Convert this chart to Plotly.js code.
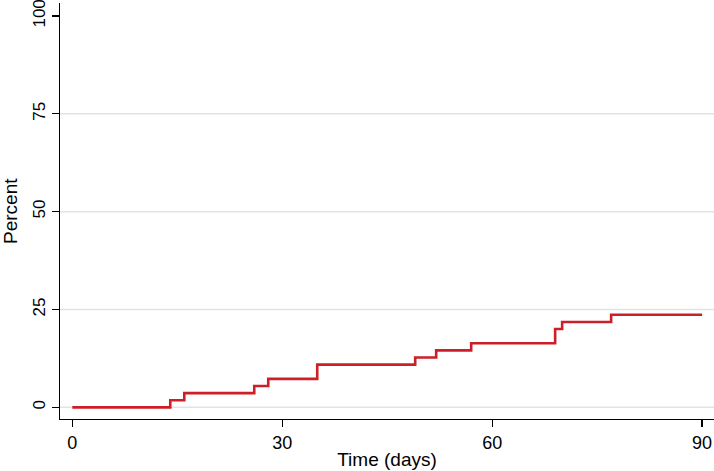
<!DOCTYPE html>
<html>
<head>
<meta charset="utf-8">
<script src="https://cdn.plot.ly/plotly-3.0.1.min.js"></script>
<style>html,body{margin:0;padding:0;background:#fff;}#chart{width:714px;height:471px;}</style>
</head>
<body>
<div id="chart"></div>
<script>
// Failure times (days) and cumulative percent (step function)
const days = [0, 14, 16, 26, 28, 35, 49, 52, 57, 69, 70, 77, 90];
const percent = [0, 1.82, 3.64, 5.45, 7.27, 10.91, 12.73, 14.55, 16.36, 20.00, 21.82, 23.64, 23.64];
const xTicks = [0, 30, 60, 90];
const yTicks = [0, 25, 50, 75, 100];
const gridVals = [0, 25, 50, 75];

const fam = 'Liberation Sans, Arial, sans-serif';
const font = {family: fam, size: 18, color: '#000'};
const yTickFont = {family: fam, size: 17, color: '#000'};
const titleFont = {family: fam, size: 19, color: '#000'};

const shapes = gridVals.map(v => ({
  type: 'line', xref: 'paper', yref: 'y', x0: 0, x1: 1, y0: v, y1: v,
  line: {color: '#e3e3e3', width: 1.5}, layer: 'below'
}));

const trace = {
  x: days, y: percent, type: 'scatter', mode: 'lines',
  line: {shape: 'hv', color: '#cc1f27', width: 2.6},
  hoverinfo: 'x+y', showlegend: false
};

const layout = {
  width: 714, height: 471,
  margin: {l: 60, r: 0, t: 3, b: 52},
  paper_bgcolor: '#fff', plot_bgcolor: '#fff',
  font: font,
  shapes: shapes,
  annotations: [{
    text: 'Percent', xref: 'paper', yref: 'paper', x: 0, y: 0.5,
    xanchor: 'center', yanchor: 'middle', xshift: -50, textangle: -90,
    showarrow: false, font: titleFont
  }],
  xaxis: {
    range: [-1.76, 91.7], tickvals: xTicks, ticktext: xTicks.map(String),
    showgrid: false, zeroline: false, showline: true, linecolor: '#000', linewidth: 1.3,
    ticks: 'outside', ticklen: 7, tickcolor: '#000', tickwidth: 1.2,
    tickfont: font, ticklabeloverflow: 'allow', automargin: false,
    title: {text: 'Time (days)', font: titleFont, standoff: 0}
  },
  yaxis: {
    range: [-2.98, 103.3], tickvals: yTicks, ticktext: yTicks.map(String),
    showgrid: false, zeroline: false, showline: true, linecolor: '#000', linewidth: 1.3,
    ticks: 'outside', ticklen: 7, tickcolor: '#000', tickwidth: 1.2,
    tickangle: -90, tickfont: yTickFont, ticklabeloverflow: 'allow', automargin: false
  }
};

Plotly.newPlot('chart', [trace], layout, {staticPlot: true});
</script>
</body>
</html>
